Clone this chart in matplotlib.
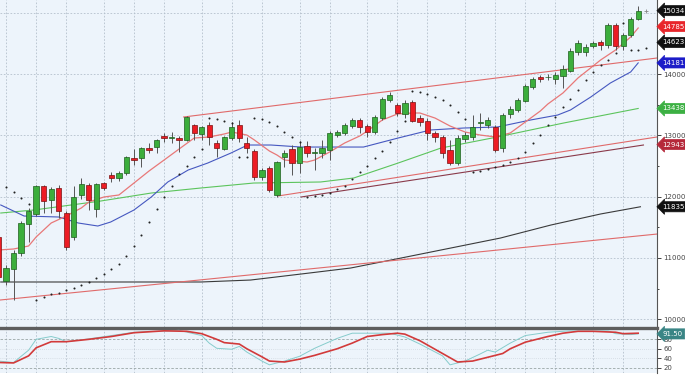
import numpy as np
import matplotlib
matplotlib.use("Agg")
import matplotlib.pyplot as plt

# daily candles, index 0 is the cut-off candle at the left edge
opens = [11342, 10624, 10820, 11081, 11554, 11717, 12173, 11945, 12141, 11733,
         11342, 12027, 12190, 11798, 12222, 12353, 12304, 12385, 12630, 12630,
         12793, 12809, 12989, 12956, 12956, 12924, 13168, 13022, 13168, 12875,
         12777, 12956, 13168, 12875, 12744, 12320, 12467, 12027, 12646, 12777,
         12548, 12826, 12712, 12712, 12761, 13005, 13038, 13152, 13250, 13152,
         13054, 13282, 13576, 13494, 13348, 13543, 13282, 13234, 13038, 12973,
         12761, 12548, 12940, 12973, 13201, 13168, 13136, 12793, 13348, 13413,
         13560, 13788, 13951, 13951, 13919, 13967, 14049, 14359, 14359, 14457,
         14522, 14473, 14799, 14457, 14636, 14897]
highs = [11374, 10885, 11130, 11603, 11815, 12190, 12190, 12157, 12190, 11766,
         12173, 12304, 12222, 12222, 12239, 12402, 12418, 12663, 12777, 12809,
         12875, 12940, 13038, 13054, 12989, 13315, 13185, 13152, 13217, 12924,
         12989, 13217, 13250, 12973, 12777, 12467, 12500, 12581, 12761, 12842,
         12907, 12907, 12793, 12924, 13070, 13087, 13201, 13282, 13282, 13185,
         13331, 13625, 13706, 13527, 13576, 13576, 13331, 13282, 13070, 13005,
         12924, 13005, 13054, 13331, 13364, 13299, 13168, 13364, 13478, 13609,
         13837, 13951, 13984, 14000, 14033, 14147, 14424, 14555, 14490, 14539,
         14555, 14832, 14832, 14669, 14930, 15109]
lows = [10640, 10559, 10314, 11032, 11260, 11684, 11733, 11733, 11651, 11130,
        11292, 11961, 11782, 11668, 12108, 12239, 12255, 12353, 12516, 12483,
        12712, 12712, 12891, 12875, 12728, 12907, 12924, 12924, 12842, 12646,
        12761, 12924, 12891, 12712, 12271, 12271, 12075, 11994, 12483, 12353,
        12385, 12646, 12434, 12630, 12597, 12973, 13005, 13119, 13038, 12973,
        13022, 13250, 13543, 13315, 13282, 13217, 13152, 12924, 12891, 12630,
        12516, 12516, 12891, 12924, 13087, 13119, 12728, 12728, 13282, 13380,
        13543, 13755, 13870, 13902, 13837, 13772, 14033, 14310, 14294, 14424,
        14392, 14424, 14392, 14392, 14604, 14881]
closes = [10689, 10836, 11081, 11570, 11766, 12173, 11929, 12124, 11766, 11179,
          11994, 12206, 11945, 12206, 12141, 12304, 12385, 12646, 12597, 12793,
          12761, 12924, 12956, 12973, 12924, 13299, 13038, 13136, 12973, 12793,
          12973, 13136, 12956, 12793, 12320, 12434, 12108, 12565, 12712, 12548,
          12809, 12712, 12728, 12793, 13038, 13054, 13168, 13250, 13136, 13054,
          13299, 13592, 13658, 13364, 13527, 13234, 13217, 13038, 12973, 12712,
          12548, 12956, 13005, 13136, 13217, 13250, 12761, 13331, 13429, 13576,
          13804, 13919, 13919, 13955, 13984, 14082, 14375, 14506, 14441, 14506,
          14473, 14799, 14457, 14636, 14897, 15034]

# moving averages (sampled along the drawn lines)
fast_idx = [0, 2, 4, 5, 7, 9, 11, 12, 14, 16, 18, 20, 22, 24, 26, 28, 30, 31, 33, 34, 36, 37, 38,
            41, 42, 44, 46, 48, 49, 51, 53, 55, 56, 58, 60, 62, 64, 66, 68, 70, 72, 73, 75, 77,
            79, 80, 82, 84, 85]
fast_val = [11130, 11146, 11195, 11342, 11570, 11684, 11815, 11912, 11994, 12027, 12222, 12418,
            12597, 12777, 12956, 12973, 13022, 13054, 13005, 12924, 12744, 12679, 12597, 12565,
            12597, 12728, 12875, 12989, 13070, 13250, 13348, 13364, 13364, 13282, 13152, 13054,
            13005, 12973, 13038, 13217, 13397, 13511, 13690, 13935, 14130, 14228, 14392, 14604, 14750]
mid_idx = [0.3, 3.4, 8.0, 10.6, 13.2, 14.9, 18.0, 20.3, 22.5, 25.2, 27.8, 30.9, 33.1, 36.2, 40.2,
           44.2, 48.5, 53.1, 57.4, 61.8, 66.3, 70.7, 74.3, 76.0, 78.7, 81.3, 84.0, 85.0]
mid_val = [11864, 11684, 11668, 11570, 11521, 11586, 11782, 11994, 12239, 12434, 12548, 12712,
           12842, 12842, 12809, 12809, 12809, 12956, 13087, 13119, 13136, 13250, 13331, 13413,
           13625, 13853, 14033, 14181]
slow_idx = [0.3, 4.7, 13.6, 20.3, 26.9, 33.9, 42.8, 47.2, 53.1, 58.8, 66.3, 75.1, 85.0]
slow_val = [11733, 11782, 11929, 12059, 12141, 12222, 12239, 12304, 12548, 12793, 12973, 13201, 13438]
long_idx = [0.3, 13.6, 26.9, 33.5, 40.2, 46.8, 53.5, 60.1, 66.7, 73.4, 80.0, 85.3]
long_val = [10608, 10608, 10608, 10640, 10738, 10836, 10999, 11162, 11325, 11537, 11717, 11835]

# trend lines: (start index, start price, end index, end price)
trend_lines = [
    (0.2, 10314, 87.5, 11390, '#e06a6a'),
    (24.6, 13299, 87.5, 14261, '#e06a6a'),
    (37.1, 12010, 87.5, 12973, '#e06a6a'),
    (40.2, 11994, 85.7, 12842, '#8a3a4a'),
]

# parabolic SAR
sar_idx = [1, 2, 3, 4] + list(range(5, 87))
sar_val = [12157, 12075, 11978, 11880,
           10314, 10363, 10412, 10428, 10477, 10510, 10559, 10608, 10673, 10738, 10820, 10901,
           11032, 11195, 11374, 11586, 11798, 11994, 12173, 12369, 12500, 12646, 12777,
           13282, 13266, 13234, 13201, 12646, 12646,
           13282, 13266, 13217, 13152, 13054, 12973, 12891,
           11994, 12010, 12027, 12059, 12124, 12173, 12288, 12402, 12500, 12630, 12744, 12891,
           13070, 13234,
           13723, 13706, 13674, 13625, 13576, 13494, 13380, 13266,
           12402, 12418, 12451, 12483, 12516, 12565, 12630, 12728, 12875, 13005, 13168, 13299,
           13462, 13592, 13739, 13902, 14033, 14147, 14228, 14343, 14832, 14392, 14392, 14424]

# stochastic oscillator
d_idx = [0, 2, 4, 5, 7, 9, 12, 15, 18, 21, 22, 25, 27, 29, 30, 32, 33, 35, 36, 38, 40, 42, 45,
         47, 49, 51, 53, 54, 56, 58, 60, 61, 63, 65, 67, 68, 70, 73, 75, 77, 79, 82, 83, 85]
d_val = [31, 30, 45, 62, 75, 75, 80, 86, 94, 97, 98, 97, 92, 80, 73, 70, 60, 43, 34, 32, 38, 46,
         60, 72, 86, 90, 93, 91, 77, 59, 41, 32, 34, 42, 50, 60, 74, 86, 93, 97, 97, 95, 92, 93]
k_idx = [0, 2, 4, 5, 7, 8, 9, 12, 15, 18, 24, 27, 28, 29, 31, 32, 33, 35, 36, 38, 40, 42, 45, 47,
         49, 52, 54, 56, 59, 60, 62, 64, 65, 66, 68, 70, 73, 76, 81, 82, 84, 85]
k_val = [34, 31, 57, 80, 86, 82, 75, 81, 88, 95, 99, 88, 72, 61, 59, 65, 53, 34, 26, 34, 44, 61,
         82, 93, 93, 93, 85, 70, 45, 26, 34, 49, 57, 53, 72, 88, 95, 98, 98, 92, 90, 91.5]

price_ticks = [10000, 11000, 12000, 13000, 14000]
grid_idx = [1, 5, 9, 14, 18, 22, 27, 31, 35, 40, 44, 49, 53, 57, 62, 66, 70, 74, 79, 83]

label_vals = [15034, 14785, 14623, 14181, 13438, 12943, 11835]
label_cols = ['#111111', '#e8262b', '#111111', '#1c1cc8', '#3cb043', '#b5283a', '#111111']

bg = '#edf4fb'
grid_kw = dict(color='#b4c0cc', lw=0.6, dashes=(2, 2), zorder=0)

fig = plt.figure(figsize=(6.85, 3.75), dpi=100)
fig.patch.set_facecolor('white')
ax = fig.add_axes([0, 48 / 375, 657 / 685, 327 / 375])
ax2 = fig.add_axes([0, 2 / 375, 657 / 685, 45 / 375], sharex=ax)

for a in (ax, ax2):
    a.set_facecolor(bg)
    for g in grid_idx:
        a.axvline(g, **grid_kw)
    for s in ('left', 'top', 'bottom'):
        a.spines[s].set_visible(False)
    a.spines['right'].set_color('#555555')
    a.spines['right'].set_linewidth(0.8)
    a.yaxis.tick_right()
    a.tick_params(axis='x', bottom=False, labelbottom=False)
    a.tick_params(axis='y', which='both', colors='#444444', labelsize=5, pad=1.5, width=0.7)
    a.tick_params(axis='y', which='major', length=3)
    a.tick_params(axis='y', which='minor', length=1.5)

for p in price_ticks + [15000]:
    ax.axhline(p, **grid_kw)

# candles
idx = np.arange(len(closes))
o = np.array(opens)
c = np.array(closes)
up = c >= o
lo = np.minimum(o, c)
h = np.maximum(np.abs(c - o), 8)
ax.vlines(idx, lows, highs, color='#555555', lw=0.7, zorder=3)
ax.bar(idx[up], h[up], bottom=lo[up], width=0.7, color='#3cae3c',
       edgecolor='#1d5e1d', lw=0.5, zorder=4)
ax.bar(idx[~up], h[~up], bottom=lo[~up], width=0.7, color='#ec1c24',
       edgecolor='#7a1010', lw=0.5, zorder=4)

ax.plot(long_idx, long_val, color='#3a3a3a', lw=0.8, zorder=2)
ax.plot(slow_idx, slow_val, color='#5cc45c', lw=0.8, zorder=2)
ax.plot(mid_idx, mid_val, color='#4658c0', lw=0.8, zorder=2)
ax.plot(fast_idx, fast_val, color='#e87878', lw=0.9, zorder=2)
for x0, y0, x1, y1, col in trend_lines:
    ax.plot([x0, x1], [y0, y1], color=col, lw=0.8, zorder=2)

ax.scatter(sar_idx, sar_val, s=2.2, color='#222222', zorder=5, linewidths=0)
ax.plot(86, closes[-1], '+', ms=3, mew=0.6, color='#888888')

ax.set_xlim(0.2, 87.5)
ax.set_ylim(9874, 15207)
ax.set_yticks(price_ticks)
ax.set_yticks(np.arange(10500, 15000, 1000), minor=True)
ax.set_yticklabels([str(p) for p in price_ticks])

# value tags on the right, pushed apart from each other and from tick labels
gap = 260
tick_gap = 150
shown = []
for v in label_vals:
    y = v
    if shown and shown[-1] - y < gap:
        y = shown[-1] - gap
    for t in price_ticks:
        if 0 < t - y < tick_gap:
            y = t - tick_gap
    shown.append(y)
for v, y, col in zip(label_vals, shown, label_cols):
    ax.annotate(str(v), xy=(1, y), xycoords=('axes fraction', 'data'), xytext=(4, 0),
                textcoords='offset points', ha='left', va='center', fontsize=5,
                color='white', annotation_clip=False, zorder=10,
                bbox=dict(boxstyle='larrow,pad=0.3', fc=col, ec=col, lw=0.5))

# stochastic panel
ax2.spines['top'].set_visible(True)
ax2.spines['top'].set_color('#5e5e5e')
ax2.spines['top'].set_linewidth(2.4)
for lvl in (20, 80):
    ax2.axhline(lvl, color='#9aa6a6', lw=0.6, dashes=(3, 2), zorder=1)
for lvl in (40, 60):
    ax2.axhline(lvl, color='#c4ccd4', lw=0.5, dashes=(1, 2), zorder=1)
ax2.plot(k_idx, k_val, color='#86cccc', lw=0.7, zorder=3)
ax2.plot(d_idx, d_val, color='#d23a3a', lw=1.2, zorder=4)
ax2.set_ylim(8.7, 104)
ax2.set_yticks([20, 40, 60, 80])
ax2.set_yticklabels(['20', '40', '60', '80'])
ax2.annotate(f"{k_val[-1]:.2f}", xy=(1, k_val[-1]), xycoords=('axes fraction', 'data'),
             xytext=(4, 0), textcoords='offset points', ha='left', va='center', fontsize=5,
             color='white', annotation_clip=False, zorder=10,
             bbox=dict(boxstyle='larrow,pad=0.3', fc='#3a8585', ec='#3a8585', lw=0.5))

fig.savefig('out.png', dpi=100)
